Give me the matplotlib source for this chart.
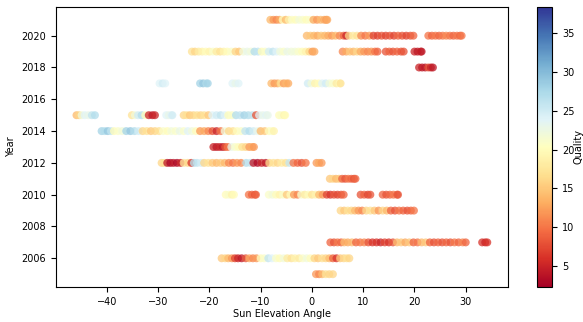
import numpy as np
import matplotlib
matplotlib.use("Agg")
import matplotlib.pyplot as plt
from matplotlib.colors import Normalize

# sun elevation angle and quality per acquisition year
sun_2005 = [0.8, 1.4, 2.0, 2.7, 3.4, 4.1]
q_2005 = [12, 11, 14, 17, 16, 16]

sun_2006 = [-17.6, -16.9, -16.3, -15.6, -15.0, -14.4, -13.7, -12.9, -12.2, -11.5, -10.8,
            -10.0, -9.3, -8.5, -7.8, -7.0, -6.3, -5.5, -4.8, -4.0, -3.3, -2.5, -1.8, -1.0,
            -0.3, 0.5, 1.2, 2.0, 2.7, 3.4, 4.1, 4.8, 5.5, 6.2, 6.8, 7.3]
q_2006 = [15, 16, 14, 12, 7, 5, 4, 8, 13, 11, 12,
          20, 21, 26, 24, 21, 20, 22, 18, 17, 19, 18, 21, 22,
          20, 16, 15, 17, 16, 14, 9, 6, 15, 16, 17, 16]

sun_2007 = [3.6, 4.3, 5.0, 5.7, 6.3, 7.0, 7.8, 8.6, 9.4, 10.2, 11.0, 11.8, 12.6, 13.4,
            14.2, 15.0, 15.8, 16.6, 17.4, 18.2, 19.0, 19.8, 20.6, 21.4, 22.2, 23.0, 23.8,
            24.6, 25.4, 26.2, 27.0, 27.8, 28.6, 29.4, 30.0, 33.2, 33.8, 34.2]
q_2007 = [9, 8, 10, 9, 14, 13, 14, 9, 10, 11, 8, 6, 6, 5,
          7, 6, 8, 14, 15, 13, 15, 9, 10, 14, 15, 9, 8,
          9, 8, 9, 8, 10, 9, 11, 9, 6, 5, 6]

sun_2009 = [5.6, 6.3, 7.0, 7.7, 8.4, 9.1, 9.8, 10.6, 11.4, 12.2, 13.0, 13.8, 14.6,
            15.4, 16.2, 17.0, 17.8, 18.6, 19.3, 19.9]
q_2009 = [16, 15, 17, 16, 14, 12, 11, 16, 17, 15, 12, 16, 14,
          9, 8, 10, 9, 8, 9, 10]

sun_2010 = [-16.8, -16.2, -15.6, -15.2,
            -12.3, -11.7, -11.1, -10.9,
            -8.4, -7.7, -7.0, -6.3, -5.6, -4.9, -4.2, -3.5, -2.8, -2.1, -1.4, -0.7, 0.0,
            0.7, 1.4, 2.1, 2.9, 3.6, 4.3, 5.0, 5.7, 6.2,
            9.5, 10.2, 10.9, 11.4,
            13.8, 14.5, 15.2, 15.9, 16.6, 16.8]
q_2010 = [20, 21, 19, 20,
          10, 9, 8, 9,
          21, 22, 20, 19, 21, 15, 20, 12, 11, 21, 18, 20, 17,
          19, 14, 12, 7, 6, 8, 7, 8, 9,
          8, 9, 7, 8,
          9, 8, 9, 10, 9, 8]

sun_2011 = [3.5, 4.1, 4.7, 5.3, 5.9, 6.5, 7.1, 7.7, 8.2, 8.5]
q_2011 = [15, 16, 14, 15, 9, 8, 10, 9, 8, 9]

sun_2012 = [-29.3, -28.8, -28.2, -27.6, -27.0, -26.3, -25.6, -25.0, -24.2, -23.5, -23.0,
            -22.4, -21.6, -21.0, -20.2, -19.4, -18.6, -17.8, -17.0, -16.2, -15.4, -14.6,
            -13.8, -12.8, -12.0, -11.4, -10.6, -9.8, -9.0, -8.3, -7.5, -6.7, -5.9, -5.1,
            -4.4, -3.6, -2.8, -2.0, -1.2, 0.9, 1.4, 1.9]
q_2012 = [16, 17, 4, 3, 4, 3, 5, 17, 16, 6, 27,
          26, 25, 16, 17, 15, 14, 15, 14, 11, 10, 12,
          11, 27, 26, 4, 3, 5, 4, 16, 17, 16, 18, 17,
          26, 10, 9, 8, 10, 12, 13, 12]

sun_2013 = [-19.2, -18.6, -18.0, -17.4, -16.9, -16.4, -15.7, -15.0, -14.3, -13.6,
            -12.9, -12.2, -11.6, -11.3]
q_2013 = [5, 4, 5, 4, 8, 10, 23, 21, 20, 17, 16, 12, 13, 12]

sun_2014 = [-41.0, -40.4, -39.8, -39.2, -38.6, -37.8, -37.0, -36.2, -35.4, -34.6, -33.8,
            -33.0, -32.2, -31.4, -30.6, -29.8, -29.0, -28.2, -27.4, -26.6, -25.8, -25.0,
            -24.2, -23.4, -22.6, -21.8, -21.0, -20.2, -19.4, -18.6, -17.8, -17.0, -16.2,
            -15.4, -14.6, -13.8, -13.0, -12.2, -11.4, -10.6, -10.0, -9.2, -8.4, -7.8, -7.4]
q_2014 = [28, 27, 29, 26, 20, 21, 22, 28, 29, 27, 25,
          16, 17, 15, 16, 17, 21, 20, 22, 21, 23, 21,
          24, 22, 20, 12, 13, 11, 8, 5, 10, 22, 16,
          17, 20, 21, 26, 27, 25, 23, 14, 15, 20, 21, 19]

sun_2015 = [-45.9, -45.4, -44.9, -44.3, -43.6, -42.9, -42.3,
            -35.1, -34.5, -33.9, -33.2, -32.5, -31.8, -31.1, -30.6,
            -28.4, -27.9, -27.4, -27.2,
            -25.0, -24.4, -23.8, -23.1, -22.4, -21.7, -21.0, -20.2, -19.4, -18.6, -17.8,
            -17.0, -16.3, -15.6, -14.8, -14.0, -13.2, -12.4, -11.6, -10.9, -10.3, -9.6,
            -8.9, -8.6,
            -6.4, -5.9, -5.4, -5.2]
q_2015 = [14, 16, 22, 24, 23, 26, 27,
          17, 22, 25, 27, 20, 5, 4, 5,
          24, 23, 24, 25,
          16, 17, 15, 16, 17, 16, 17, 15, 24, 25, 26,
          24, 20, 21, 27, 26, 28, 27, 26, 8, 24, 23,
          24, 23,
          20, 21, 19, 20]

sun_2017 = [-29.7, -29.1, -28.6,
            -21.8, -21.2, -20.6, -20.3,
            -15.5, -14.9, -14.3,
            -7.9, -7.3, -6.7, -6.1, -5.5, -5.0, -4.6,
            -0.8, -0.1, 0.6, 1.3, 2.0, 2.7, 3.4, 4.1, 4.8, 5.4, 5.6]
q_2017 = [24, 25, 24,
          28, 29, 27, 28,
          24, 23, 24,
          14, 12, 13, 17, 12, 14, 13,
          25, 22, 19, 20, 24, 25, 22, 21, 18, 20, 17]

sun_2018 = [20.9, 21.5, 22.1, 22.7, 23.2, 23.6]
q_2018 = [5, 4, 4, 8, 5, 4]

sun_2019 = [-23.4, -22.8, -22.1, -21.4, -20.7, -20.0, -19.3, -18.6, -17.9, -17.2, -16.5,
            -15.7, -14.9, -14.2, -13.4, -12.6, -11.9, -11.2, -10.5, -9.8, -9.1, -8.4, -7.6,
            -6.9, -6.2, -5.5, -4.8, -4.0, -3.3, -2.6, -1.9, -1.2, -0.5, 0.1, 0.5,
            6.0, 6.7, 7.4, 8.1, 8.8, 9.5, 10.2, 10.9, 11.6, 12.3, 12.8,
            14.4, 15.1, 15.8, 16.6, 17.4, 17.9,
            20.0, 20.6, 21.2, 21.4]
q_2019 = [17, 16, 18, 19, 20, 19, 21, 18, 17, 19, 20,
          21, 16, 15, 22, 23, 22, 27, 26, 20, 21, 25, 26,
          24, 22, 21, 23, 22, 22, 21, 20, 19, 16, 12, 13,
          11, 13, 15, 14, 16, 13, 12, 11, 12, 10, 9,
          8, 9, 8, 9, 8, 8,
          5, 4, 5, 4]

sun_2020 = [-1.0, -0.3, 0.4, 1.1, 1.8, 2.5, 3.2, 3.9, 4.6, 5.4, 6.2, 6.7, 7.2, 8.0,
            8.8, 9.6, 10.4, 11.2, 12.0, 12.8, 13.6, 14.4, 15.2, 16.0, 16.8, 17.6, 18.4,
            19.2, 19.8,
            22.7, 23.4, 24.1, 24.8, 25.5, 26.2, 26.9, 27.6, 28.3, 28.9, 29.2]
q_2020 = [14, 15, 14, 13, 15, 14, 13, 12, 14, 11, 9, 5, 16, 18,
          17, 11, 10, 12, 7, 7, 8, 7, 8, 7, 9, 8, 7,
          8, 9,
          10, 9, 10, 9, 10, 11, 10, 9, 10, 9, 10]

sun_2021 = [-8.1, -7.5, -6.9, -6.3, -5.7, -5.1, -4.5, -3.9, -3.2, -2.5, -1.8, -1.1, -0.4,
            0.3, 1.0, 1.7, 2.4, 2.8, 3.0]
q_2021 = [14, 12, 11, 13, 20, 14, 19, 21, 20, 22, 21, 20, 21,
          13, 12, 14, 13, 12, 13]

years = [2005, 2006, 2007, 2009, 2010, 2011, 2012, 2013, 2014, 2015, 2017, 2018, 2019, 2020, 2021]
sun_by_year = [sun_2005, sun_2006, sun_2007, sun_2009, sun_2010, sun_2011, sun_2012, sun_2013,
               sun_2014, sun_2015, sun_2017, sun_2018, sun_2019, sun_2020, sun_2021]
q_by_year = [q_2005, q_2006, q_2007, q_2009, q_2010, q_2011, q_2012, q_2013,
             q_2014, q_2015, q_2017, q_2018, q_2019, q_2020, q_2021]

sun = np.concatenate([np.array(s, float) for s in sun_by_year])
quality = np.concatenate([np.array(q, float) for q in q_by_year])
year = np.concatenate([np.full(len(s), y) for s, y in zip(sun_by_year, years)])

plt.rcParams['font.size'] = 7

fig = plt.figure(figsize=(5.83, 3.22), dpi=100)
ax = fig.add_axes([0.096, 0.109, 0.775, 0.869])
cax = fig.add_axes([0.921, 0.109, 0.026, 0.869])

sc = ax.scatter(sun, year, c=quality, cmap='RdYlBu', norm=Normalize(2.3, 38.4),
                s=33, alpha=0.75, linewidths=0)
ax.set_xlim(-49.9, 38.2)
ax.set_xlabel('Sun Elevation Angle', labelpad=2)
ax.set_ylabel('Year')

cb = fig.colorbar(sc, cax=cax)
cb.solids.set_alpha(1)
cb.set_label('Quality', labelpad=-0.5)

fig.savefig('out.png', dpi=100)
